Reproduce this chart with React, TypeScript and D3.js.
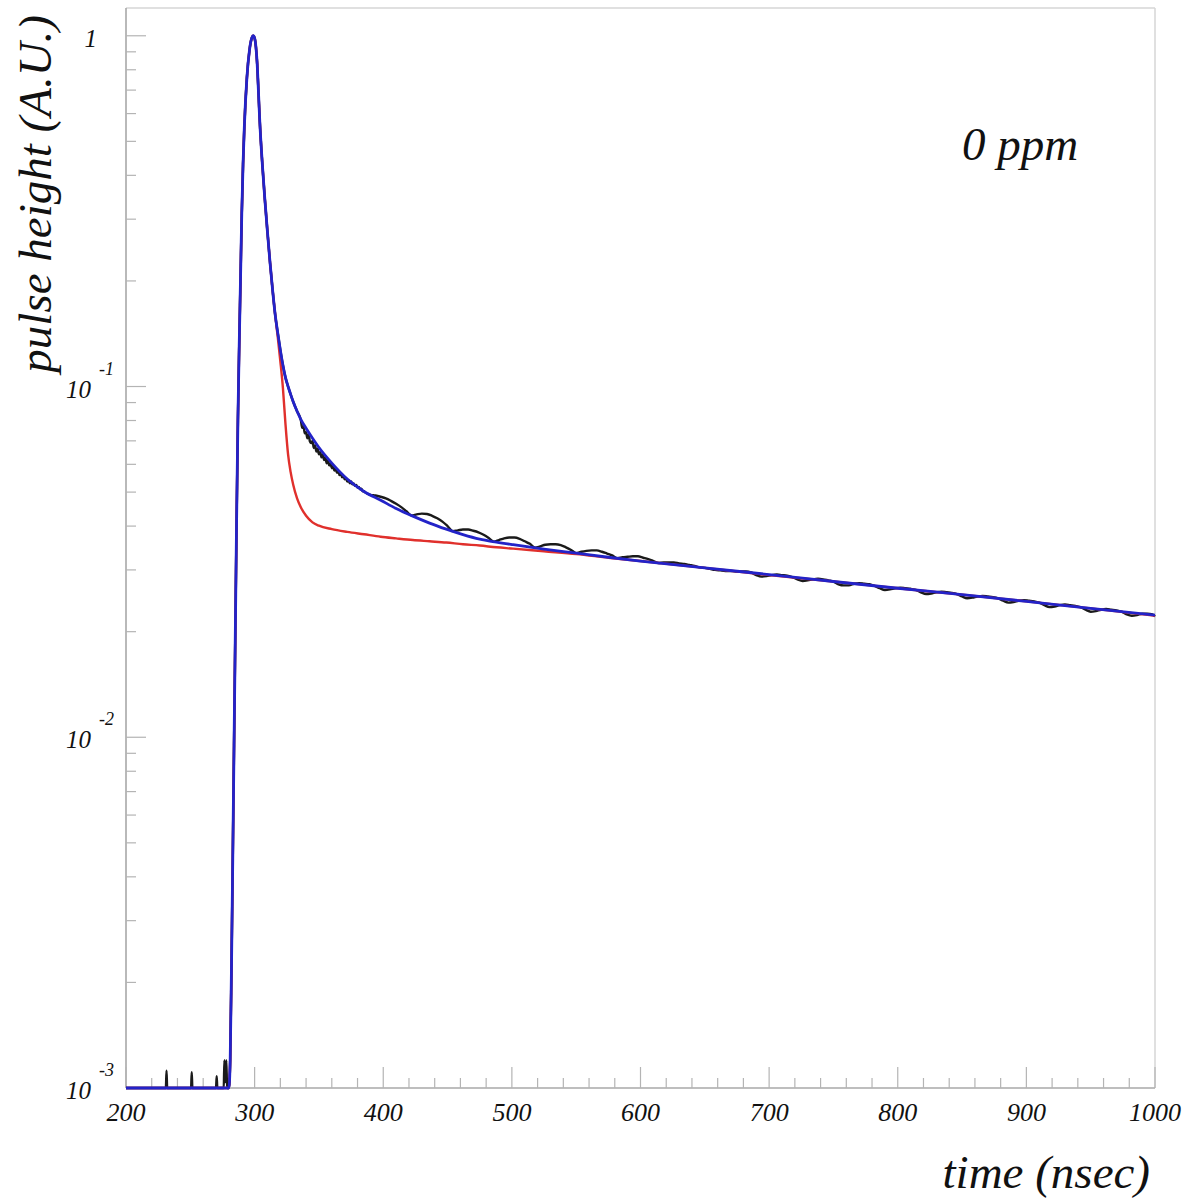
import React from "react";
import * as d3 from "d3";

// ---- fit curves (shared time grid, ns) ----
const fitTime = [200, 280, 281, 282, 283, 284, 285, 286, 287, 288, 289, 290, 291, 292, 294, 296, 298, 299, 300, 301,
  302, 303, 304, 306, 308, 310, 312, 314, 316, 318, 320, 322, 324, 326, 328, 330, 333, 336, 340, 345,
  350, 360, 372, 385, 398, 410, 423, 436, 449, 462, 475, 488, 501, 525, 550, 575, 600, 650, 700, 750,
  800, 850, 900, 950, 1000];

// blue: total fit
const totalFit = [0.001, 0.001, 0.0012, 0.0022, 0.0045, 0.0095, 0.02, 0.042, 0.08, 0.13, 0.2, 0.31, 0.43, 0.55, 0.76, 0.91, 0.99, 1.0, 0.985, 0.93,
  0.83, 0.69, 0.57, 0.43, 0.34, 0.275, 0.225, 0.188, 0.16, 0.142, 0.127, 0.115, 0.106, 0.1, 0.095, 0.0905, 0.085, 0.0805, 0.076, 0.0712,
  0.067, 0.0605, 0.0545, 0.0502, 0.0474, 0.0449, 0.0427, 0.0408, 0.0392, 0.0378, 0.0367, 0.036, 0.0354, 0.0344, 0.0335, 0.0326, 0.0318, 0.0304, 0.0291, 0.0278,
  0.0266, 0.0255, 0.0244, 0.0233, 0.0223];

// red: component fit
const componentFit = [0.001, 0.001, 0.0012, 0.0022, 0.0045, 0.0095, 0.02, 0.042, 0.08, 0.13, 0.2, 0.31, 0.43, 0.55, 0.76, 0.91, 0.99, 1.0, 0.985, 0.93,
  0.83, 0.69, 0.57, 0.43, 0.34, 0.275, 0.225, 0.188, 0.16, 0.138, 0.118, 0.099, 0.078, 0.064, 0.057, 0.0525, 0.048, 0.0452, 0.0428, 0.041,
  0.0401, 0.0392, 0.0385, 0.0379, 0.0373, 0.0369, 0.0365, 0.0362, 0.0359, 0.0355, 0.0352, 0.0348, 0.0345, 0.0339, 0.0333, 0.0325, 0.0318, 0.0304, 0.029, 0.0278,
  0.0266, 0.0255, 0.0244, 0.0233, 0.0222];

// ---- measured pulse (black): [time ns, pulse height] ----
const measuredPulse: [number, number][] = [
  [200, 0.001], [231, 0.001], [231.5, 0.00112], [232, 0.001], [250.6, 0.001], [251.1, 0.00111], [251.6, 0.001],
  [270, 0.001], [270.5, 0.00108], [271, 0.001], [276, 0.001], [276.5, 0.0012], [277.2, 0.00104], [278, 0.0012], [278.6, 0.001], [280, 0.001],
  [281, 0.0012], [282, 0.0022], [283, 0.0045], [284, 0.0095], [285, 0.02], [286, 0.042], [287, 0.08], [288, 0.13], [289, 0.2], [290, 0.31],
  [291, 0.43], [292, 0.55], [294, 0.76], [296, 0.91], [298, 0.99], [299, 1.0], [300, 0.985], [301, 0.93], [302, 0.83], [303, 0.69],
  [304, 0.57], [306, 0.43], [308, 0.34], [310, 0.275], [312, 0.225], [314, 0.188], [316, 0.16], [318, 0.142], [320, 0.127], [322, 0.115],
  [324, 0.106], [326, 0.1], [328, 0.095], [330, 0.0905], [333, 0.085],
  [336, 0.08], [337, 0.0762], [338, 0.077], [339, 0.0735], [340, 0.0741], [341, 0.0712], [342, 0.073], [343, 0.0697], [344, 0.069],
  [345, 0.07], [346, 0.0668], [347, 0.0679], [348, 0.0652], [349, 0.0665], [350, 0.0641], [351, 0.065], [352, 0.0628], [353, 0.0639],
  [354, 0.0617], [355, 0.0628], [356, 0.0604], [357, 0.0615], [358, 0.0596], [359, 0.0603], [360, 0.0585], [361, 0.0594], [362, 0.0576],
  [363, 0.0583], [364, 0.0568], [365, 0.0575], [366, 0.0559], [367, 0.0566], [368, 0.0551], [369, 0.0557], [370, 0.0544], [371, 0.0549],
  [372, 0.0536], [373, 0.0541], [374, 0.053], [375, 0.0536], [376, 0.0526], [377, 0.0529], [378, 0.0521], [379, 0.0524], [380, 0.0515],
  [381, 0.0517], [382, 0.0509], [383, 0.0511], [384, 0.0503], [385, 0.0503], [386, 0.0499],
  [390, 0.0491], [394, 0.0489], [398, 0.0485], [402, 0.048], [406, 0.0472], [410, 0.0463], [414, 0.0453], [418, 0.0441], [422, 0.0429],
  [426, 0.0432], [430, 0.0434], [434, 0.0433], [438, 0.0428], [442, 0.0421], [446, 0.0412], [450, 0.04], [454, 0.0387],
  [458, 0.0389], [462, 0.0391], [466, 0.0391], [470, 0.0388], [474, 0.0384], [478, 0.0378], [482, 0.037], [486, 0.0361],
  [490, 0.0365], [494, 0.0369], [498, 0.0371], [502, 0.0371], [506, 0.0368], [510, 0.0362], [514, 0.0356], [518, 0.0347],
  [522, 0.035], [526, 0.0354], [530, 0.0355], [534, 0.0355], [538, 0.0353], [542, 0.0348], [546, 0.0342], [550, 0.0335],
  [554, 0.0338], [558, 0.034], [562, 0.0341], [566, 0.0341], [570, 0.0338], [574, 0.0334], [578, 0.033], [582, 0.0324],
  [586, 0.0326], [590, 0.0327], [594, 0.0328], [598, 0.0328], [602, 0.0325], [606, 0.0322], [610, 0.0318], [614, 0.0314],
  [618, 0.0315], [622, 0.0315], [626, 0.0315], [630, 0.0313], [634, 0.0312], [638, 0.031], [642, 0.0308], [646, 0.0305],
  [650, 0.0304], [654, 0.0302], [658, 0.03], [662, 0.0299], [666, 0.0298], [670, 0.0298], [674, 0.0297], [678, 0.0297],
  [682, 0.0297], [686, 0.0295], [690, 0.029], [694, 0.0287], [698, 0.0288], [702, 0.029], [706, 0.0291], [710, 0.029],
  [714, 0.0289], [718, 0.0286], [722, 0.0282], [726, 0.0279], [730, 0.028], [734, 0.0282], [738, 0.0283], [742, 0.0282],
  [746, 0.028], [750, 0.0278], [754, 0.0273], [758, 0.0271], [762, 0.0271], [766, 0.0274], [770, 0.0275], [774, 0.0274],
  [778, 0.0273], [782, 0.027], [786, 0.0266], [790, 0.0263], [794, 0.0264], [798, 0.0266], [802, 0.0267], [806, 0.0266],
  [810, 0.0265], [814, 0.0263], [818, 0.0259], [822, 0.0256], [826, 0.0257], [830, 0.0259], [834, 0.026], [838, 0.0259],
  [842, 0.0258], [846, 0.0256], [850, 0.0252], [854, 0.0249], [858, 0.025], [862, 0.0252], [866, 0.0253], [870, 0.0252],
  [874, 0.0251], [878, 0.0249], [882, 0.0245], [886, 0.0242], [890, 0.0243], [894, 0.0245], [898, 0.0246], [902, 0.0245],
  [906, 0.0244], [910, 0.0242], [914, 0.0238], [918, 0.0235], [922, 0.0236], [926, 0.0238], [930, 0.0239], [934, 0.0238],
  [938, 0.0237], [942, 0.0235], [946, 0.0231], [950, 0.0228], [954, 0.0229], [958, 0.0231], [962, 0.0232], [966, 0.0231],
  [970, 0.023], [974, 0.0228], [978, 0.0224], [982, 0.0222], [986, 0.0223], [990, 0.0225], [994, 0.0225], [998, 0.0224], [1000, 0.0221],
];

// ---- axes ----
const xDomain = [200, 1000];
const yDomain = [0.001, 1.2];
const xTickValues = [200, 300, 400, 500, 600, 700, 800, 900, 1000];
const yDecades = [0.001, 0.01, 0.1, 1];
const yExponents = ["-3", "-2", "-1", ""];
const xTitle = "time (nsec)";
const yTitle = "pulse height (A.U.)";
const annotation = "0 ppm";

export default function App() {
  const width = 1184;
  const height = 1199;
  const m = { left: 126, right: 1155, top: 8, bottom: 1088 };
  const x = d3.scaleLinear().domain(xDomain).range([m.left, m.right]);
  const y = d3.scaleLog().domain(yDomain).range([m.bottom, m.top]);

  const line = d3
    .line<[number, number]>()
    .x((d) => x(d[0]))
    .y((d) => y(d[1]))
    .curve(d3.curveMonotoneX);

  const bluePts = fitTime.map((t, i) => [t, totalFit[i]] as [number, number]);
  const redPts = fitTime.map((t, i) => [t, componentFit[i]] as [number, number]);

  const xMinor = d3.range(220, 1000, 20).filter((v) => v % 100 !== 0);
  const yMinor: number[] = [];
  [0.001, 0.01, 0.1].forEach((dec) => {
    for (let k = 2; k <= 9; k++) {
      const v = dec * k;
      if (v <= yDomain[1]) yMinor.push(v);
    }
  });

  const font = "'Liberation Serif', 'Times New Roman', Times, serif";
  const tickColor = "#b4b4b4";

  return (
    <svg
      width={width}
      height={height}
      style={{ position: "absolute", left: 0, top: 0, background: "#fff" }}
      fontFamily={font}
      fontStyle="italic"
    >
      <rect x={0} y={0} width={width} height={height} fill="#fff" />
      {/* frame */}
      <line x1={m.left} x2={m.right} y1={m.top} y2={m.top} stroke="#d6d6d6" strokeWidth={1.5} />
      <line x1={m.right} x2={m.right} y1={m.top} y2={m.bottom} stroke="#d6d6d6" strokeWidth={1.5} />
      <line x1={m.left} x2={m.left} y1={m.top} y2={m.bottom} stroke="#a8a8a8" strokeWidth={1.6} />
      <line x1={m.left} x2={m.right} y1={m.bottom} y2={m.bottom} stroke="#a8a8a8" strokeWidth={1.6} />

      {/* x ticks */}
      {xTickValues.map((v) => (
        <line key={"xM" + v} x1={x(v)} x2={x(v)} y1={m.bottom} y2={m.bottom - 21} stroke={tickColor} strokeWidth={1.2} />
      ))}
      {xMinor.map((v) => (
        <line key={"xm" + v} x1={x(v)} x2={x(v)} y1={m.bottom} y2={m.bottom - 10} stroke={tickColor} strokeWidth={1.2} />
      ))}
      {/* y ticks */}
      {yDecades.map((v) => (
        <line key={"yM" + v} x1={m.left} x2={m.left + 20} y1={y(v)} y2={y(v)} stroke={tickColor} strokeWidth={1.2} />
      ))}
      {yMinor.map((v) => (
        <line key={"ym" + v} x1={m.left} x2={m.left + 10} y1={y(v)} y2={y(v)} stroke={tickColor} strokeWidth={1.2} />
      ))}

      {/* curves */}
      <path d={line(measuredPulse) || ""} fill="none" stroke="#1a1a1a" strokeWidth={2.4} strokeLinejoin="round" />
      <path d={line(redPts) || ""} fill="none" stroke="#e0302c" strokeWidth={2.4} />
      <path d={line(bluePts) || ""} fill="none" stroke="#2323c8" strokeWidth={2.8} />

      {/* x tick labels */}
      {xTickValues.map((v) => (
        <text key={"xl" + v} x={x(v)} y={m.bottom + 33} fontSize={26} textAnchor="middle" fill="#111">
          {v}
        </text>
      ))}
      {/* y tick labels */}
      {yDecades.map((v, i) =>
        yExponents[i] === "" ? (
          <text key={"yl" + v} x={97} y={y(v) + 11} fontSize={25} textAnchor="end" fill="#111">
            1
          </text>
        ) : (
          <g key={"yl" + v}>
            <text x={91} y={y(v) + 11} fontSize={25} textAnchor="end" fill="#111">
              10
            </text>
            <text x={99} y={y(v) - 12} fontSize={18} textAnchor="start" fill="#111">
              {yExponents[i]}
            </text>
          </g>
        )
      )}

      {/* titles */}
      <text x={1150} y={1188} fontSize={47} textAnchor="end" fill="#111">
        {xTitle}
      </text>
      <text transform="translate(51,15) rotate(-90)" fontSize={47} textAnchor="end" fill="#111">
        {yTitle}
      </text>
      <text x={962} y={160} fontSize={47} textAnchor="start" fill="#111">
        {annotation}
      </text>
    </svg>
  );
}
